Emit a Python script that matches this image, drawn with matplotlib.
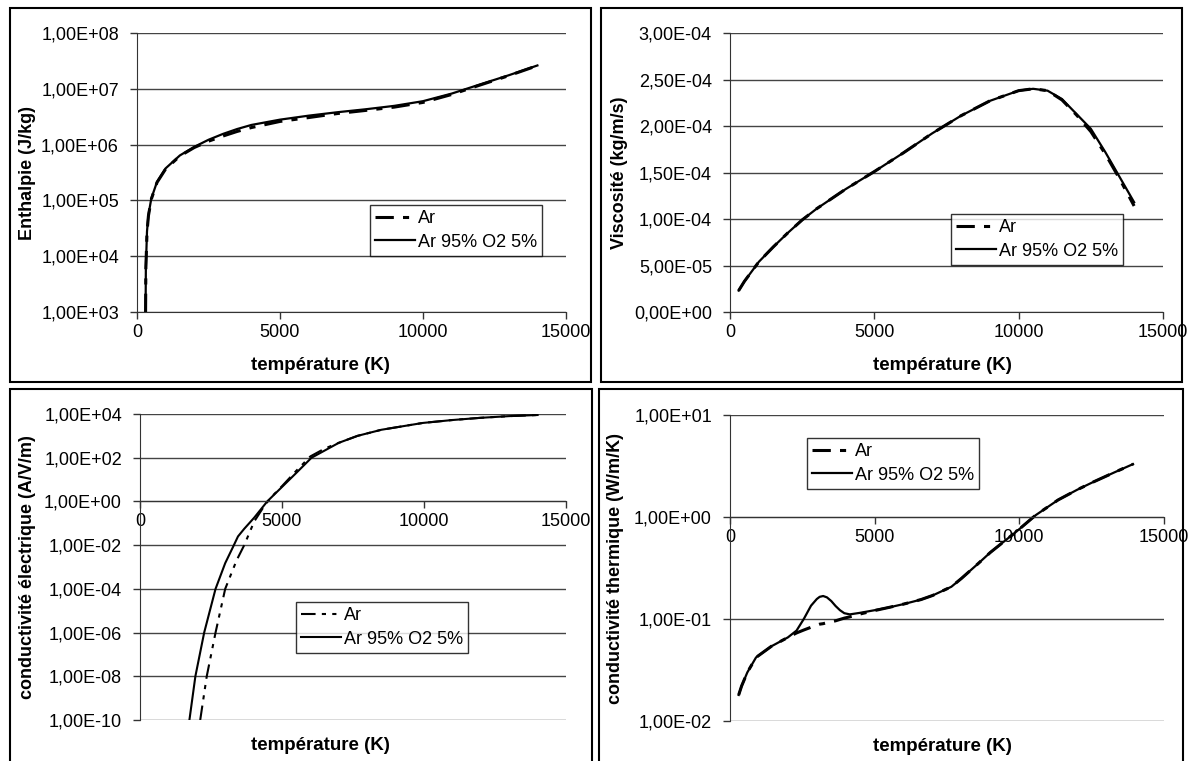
import numpy as np
import matplotlib
matplotlib.use("Agg")
from matplotlib import pyplot as plt
from matplotlib.ticker import FixedLocator, FuncFormatter, NullLocator
from matplotlib.patches import Rectangle

plt.rcParams['font.family'] = ['Liberation Sans', 'DejaVu Sans']

# enthalpie (J/kg)
T_h = [300, 310, 350, 400, 500, 700, 1000, 1500, 2000, 2500, 3000, 3500, 4000,
       5000, 6000, 7000, 8000, 9000, 10000, 11000, 12000, 13000, 14000]
h_ar = [1.0e3, 6.2e3, 2.7e4, 5.3e4, 1.05e5, 2.1e5, 3.65e5, 6.25e5, 8.85e5, 1.15e6,
        1.42e6, 1.72e6, 2.02e6, 2.6e6, 3.05e6, 3.6e6, 4.1e6, 4.7e6, 5.7e6, 7.9e6,
        1.17e7, 1.72e7, 2.6e7]
h_mix = [1.0e3, 6.5e3, 2.8e4, 5.5e4, 1.08e5, 2.15e5, 3.75e5, 6.4e5, 9.1e5, 1.22e6,
         1.55e6, 1.9e6, 2.25e6, 2.8e6, 3.3e6, 3.8e6, 4.3e6, 4.95e6, 6.0e6, 8.2e6,
         1.2e7, 1.75e7, 2.62e7]

# viscosite (kg/m/s)
T_v = [300, 500, 1000, 1500, 2000, 2500, 3000, 4000, 5000, 6000, 7000, 8000, 9000,
       10000, 10500, 11000, 11500, 12000, 12500, 13000, 13500, 14000]
v_ar = [2.3e-5, 3.3e-5, 5.4e-5, 7.0e-5, 8.5e-5, 9.9e-5, 1.11e-4, 1.32e-4, 1.51e-4,
        1.71e-4, 1.92e-4, 2.11e-4, 2.27e-4, 2.38e-4, 2.4e-4, 2.38e-4, 2.28e-4,
        2.12e-4, 1.94e-4, 1.70e-4, 1.43e-4, 1.14e-4]
v_mix = [2.3e-5, 3.3e-5, 5.4e-5, 7.0e-5, 8.5e-5, 9.9e-5, 1.11e-4, 1.32e-4, 1.51e-4,
         1.71e-4, 1.92e-4, 2.11e-4, 2.27e-4, 2.38e-4, 2.4e-4, 2.38e-4, 2.29e-4,
         2.13e-4, 1.97e-4, 1.72e-4, 1.45e-4, 1.18e-4]

# conductivite electrique (A/V/m)
T_e_ar = [2120, 2350, 2660, 3000, 3400, 3670, 4020, 4400, 4700, 5000, 5500, 6000,
          6500, 7000, 7660, 8500, 9960, 11000, 12000, 13000, 14000]
e_ar = [1e-10, 1e-8, 1e-6, 1e-4, 2e-3, 1e-2, 0.12, 0.7, 2.0, 5.0, 25, 115,
        260, 480, 1000, 1.9e3, 3.9e3, 5.3e3, 6.7e3, 8.0e3, 9.0e3]
T_e_mix = [1740, 1950, 2260, 2660, 3000, 3270, 3450, 3670, 4020, 4480, 5000, 5500,
           6040, 7000, 7660, 8500, 9960, 11000, 12000, 13000, 14000]
e_mix = [1e-10, 1e-8, 1e-6, 1e-4, 1.5e-3, 8e-3, 2.5e-2, 5.6e-2, 0.18, 1.0, 4.6, 20,
         100, 480, 1000, 1.9e3, 3.9e3, 5.3e3, 6.7e3, 8.0e3, 9.0e3]

# conductivite thermique (W/m/K)
T_k = [300, 400, 600, 900, 1430, 2000, 2300, 2550, 2800, 3000, 3100, 3220, 3350,
       3500, 3650, 3800, 3950, 4140, 4500, 5000, 5500, 6000, 6600, 7000, 7650, 8000,
       8580, 9000, 9900, 10560, 11340, 12000, 12550, 13300, 13930]
k_mix = [0.018, 0.022, 0.03, 0.042, 0.054, 0.066, 0.077, 0.1, 0.135, 0.157, 0.165,
         0.168, 0.163, 0.15, 0.134, 0.122, 0.114, 0.111, 0.115, 0.122, 0.13, 0.14,
         0.155, 0.17, 0.207, 0.25, 0.35, 0.45, 0.72, 1.04, 1.47, 1.85, 2.2, 2.75, 3.3]
k_ar = [0.018, 0.022, 0.03, 0.042, 0.054, 0.066, 0.073, 0.078, 0.083, 0.087, 0.089,
        0.09, 0.092, 0.094, 0.096, 0.099, 0.102, 0.105, 0.112, 0.121, 0.13, 0.14,
        0.155, 0.17, 0.207, 0.25, 0.35, 0.45, 0.72, 1.04, 1.47, 1.85, 2.2, 2.75, 3.3]

x_ticks = [0, 5000, 10000, 15000]
labels = ['Ar', 'Ar 95% O2 5%']

W, H = 1188, 761
fig = plt.figure(figsize=(W / 100, H / 100), dpi=100)


def px_axes(x0, y0, x1, y1):
    return fig.add_axes([x0 / W, 1 - y1 / H, (x1 - x0) / W, (y1 - y0) / H])


def frame(x0, y0, x1, y1):
    fig.patches.append(Rectangle((x0 / W, 1 - y1 / H), (x1 - x0) / W, (y1 - y0) / H,
                                 transform=fig.transFigure, fill=False,
                                 edgecolor='black', lw=1.5))


def excel_fmt(v, pos):
    return ('%.2E' % v).replace('.', ',')


def style(ax, yticks, ylabel, xcross=None):
    ax.set_xlim(0, 15000)
    ax.set_ylim(yticks[0], yticks[-1])
    ax.xaxis.set_major_locator(FixedLocator(x_ticks))
    ax.yaxis.set_major_locator(FixedLocator(yticks))
    ax.yaxis.set_major_formatter(FuncFormatter(excel_fmt))
    ax.yaxis.set_minor_locator(NullLocator())
    ax.xaxis.set_minor_locator(NullLocator())
    for s in ['top', 'right']:
        ax.spines[s].set_visible(False)
    ax.spines['left'].set_color('#333333')
    ax.spines['bottom'].set_color('#333333')
    if xcross is not None:
        ax.spines['bottom'].set_position(('data', xcross))
    ax.grid(axis='y', color='#444444', lw=1)
    ax.set_axisbelow(True)
    ax.tick_params(direction='out', length=5, width=1, labelsize=13,
                   color='#333333')
    ax.tick_params(axis='y', pad=8)
    ax.set_ylabel(ylabel, fontsize=13, fontweight='bold')
    ax.set_xlabel('température (K)', fontsize=13.5, fontweight='bold')


def legend(ax, ax_pos, box_xy):
    x0, y0, x1, y1 = ax_pos
    bx, by = box_xy
    leg = ax.legend(labels, loc='upper left',
                    bbox_to_anchor=((bx - x0) / (x1 - x0), 1 - (by - y0) / (y1 - y0)),
                    borderaxespad=0, fontsize=13, frameon=True, fancybox=False,
                    labelspacing=0.35, borderpad=0.3, handlelength=2.2,
                    handletextpad=0.15)
    leg.get_frame().set_edgecolor('black')
    leg.get_frame().set_linewidth(1)


dash_ar = (0, (6, 3, 2, 3))
dash_e = (0, (7, 3, 2, 3, 2, 3))

# panel 1
frame(10, 8, 591, 382)
p1 = (137, 33, 566, 312)
ax1 = px_axes(*p1)
ax1.set_yscale('log')
ax1.plot(T_h, h_ar, color='black', lw=2.2, linestyle=dash_ar)
ax1.plot(T_h, h_mix, color='black', lw=1.6)
style(ax1, [1e3, 1e4, 1e5, 1e6, 1e7, 1e8], 'Enthalpie (J/kg)')
ax1.xaxis.set_label_coords(0.427, -0.16)
ax1.yaxis.set_label_coords(-0.235, 0.5)
legend(ax1, p1, (370, 205))

# panel 2
frame(601, 8, 1182, 382)
p2 = (730, 33, 1163, 312)
ax2 = px_axes(*p2)
ax2.plot(T_v, v_ar, color='black', lw=2.2, linestyle=dash_ar)
ax2.plot(T_v, v_mix, color='black', lw=1.6)
style(ax2, [0, 5e-5, 1e-4, 1.5e-4, 2e-4, 2.5e-4, 3e-4], 'Viscosité (kg/m/s)')
ax2.xaxis.set_label_coords(0.49, -0.16)
ax2.yaxis.set_label_coords(-0.235, 0.5)
legend(ax2, p2, (951, 214))

# panel 3
frame(10, 389, 592, 770)
p3 = (140, 414, 566, 720)
ax3 = px_axes(*p3)
ax3.set_yscale('log')
ax3.plot(T_e_ar, e_ar, color='black', lw=1.5, linestyle=dash_e)
ax3.plot(T_e_mix, e_mix, color='black', lw=1.5)
style(ax3, [1e-10, 1e-8, 1e-6, 1e-4, 1e-2, 1e0, 1e2, 1e4],
      'conductivité électrique (A/V/m)', xcross=1.0)
ax3.xaxis.set_label_coords(0.423, -0.055)
ax3.yaxis.set_label_coords(-0.245, 0.5)
legend(ax3, p3, (296, 602))

# panel 4
frame(599, 389, 1183, 770)
p4 = (730, 415, 1164, 721)
ax4 = px_axes(*p4)
ax4.set_yscale('log')
ax4.plot(T_k, k_ar, color='black', lw=2.2, linestyle=dash_ar)
ax4.plot(T_k, k_mix, color='black', lw=1.6)
style(ax4, [1e-2, 1e-1, 1e0, 1e1], 'conductivité thermique (W/m/K)', xcross=1.0)
ax4.xaxis.set_label_coords(0.49, -0.055)
ax4.yaxis.set_label_coords(-0.245, 0.5)
legend(ax4, p4, (807, 438))

fig.savefig('out.png', dpi=100)
